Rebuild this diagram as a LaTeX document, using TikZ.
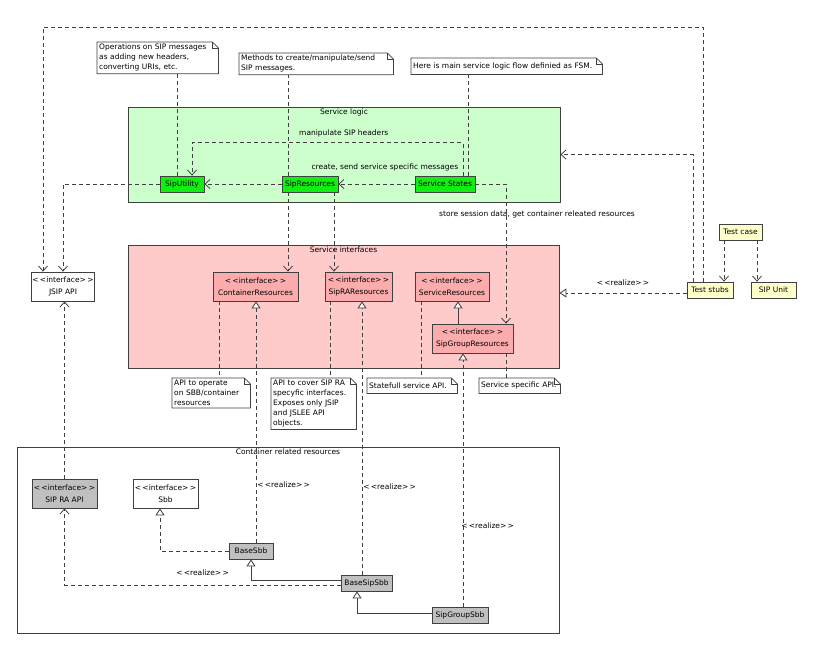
\documentclass[tikz,border=0pt]{standalone}
\usepackage{fontspec}
\setmainfont{DejaVu Sans}
\usetikzlibrary{positioning}
\usetikzlibrary{calc}
\usetikzlibrary{arrows.meta}
\definecolor{pkggreen}{RGB}{204,255,204}
\definecolor{clsgreen}{RGB}{17,238,17}
\definecolor{pkgpink}{RGB}{255,202,202}
\definecolor{clspink}{RGB}{252,172,172}
\definecolor{clsgray}{RGB}{192,192,192}
\definecolor{noteyellow}{RGB}{255,255,204}
\definecolor{linegray}{RGB}{64,64,64}
\newcommand{\dogear}[1]{%
    \draw[notebox] (#1.south west) -- (#1.north west) -- ([xshift=-6pt]#1.north east)
        -- ([yshift=-6pt]#1.north east) -- (#1.south east) -- cycle;
    \draw[notebox] ([xshift=-6pt]#1.north east) |- ([yshift=-6pt]#1.north east);
}

\begin{document}
\begin{tikzpicture}[x=1pt, y=-1pt,
    every node/.style={font=\fontsize{7.5}{10}\selectfont},
    pkg/.style={draw=linegray, line width=0.8pt, inner sep=0pt},
    pkgtitle/.style={anchor=north, inner sep=1.5pt},
    cls/.style={draw=linegray, line width=0.8pt, minimum height=16pt, inner sep=1pt},
    iface/.style={cls, fill=clspink, minimum height=29pt, align=center},
    note/.style={fill=white, inner sep=2pt, align=left, anchor=north west},
    notebox/.style={draw=linegray, line width=0.7pt},
    noteline/.style={draw=linegray, line width=0.8pt, dash pattern=on 4pt off 3pt},
    dep/.style={noteline, -{Straight Barb[length=5pt,width=9pt]}},
    real/.style={noteline, -{Triangle[length=7pt,width=9pt,fill=white]}},
    gen/.style={draw=linegray, line width=0.8pt, -{Triangle[length=7pt,width=9pt,fill=white]}},
    lbl/.style={inner sep=1pt}]

    \fill[white] (0,0) rectangle (840,654);
    \useasboundingbox (0,0) rectangle (840,654);

    % packages
    \node[pkg, fill=pkggreen, minimum width=432pt, minimum height=95pt] (logic) at (344,154.5) {};
    \node[pkgtitle] at (logic.north) {Service logic};
    \node[pkg, fill=pkgpink, minimum width=431pt, minimum height=123pt] (ifaces) at (343.5,306.5) {};
    \node[pkgtitle] at (ifaces.north) {Service interfaces};
    \node[pkg, fill=white, minimum width=542pt, minimum height=186pt] (contain) at (288,540) {};
    \node[pkgtitle] at (contain.north) {Container related resources};

    % service logic
    \node[cls, fill=clsgreen, minimum width=44pt] (util) at (182,184) {SipUtility};
    \node[cls, fill=clsgreen, minimum width=56pt] (sipres) at (310,184) {SipResources};
    \node[cls, fill=clsgreen, minimum width=60pt] (states) at (445,184) {Service States};

    % service interfaces
    \node[iface, minimum width=85pt] (contres) at (255.5,286.5) {<\,<interface>\,>\\[2pt]ContainerResources};
    \node[iface, minimum width=67pt] (raires) at (358.5,286.5) {<\,<interface>\,>\\[2pt]SipRAResources};
    \node[iface, minimum width=74pt] (svcres) at (452,286.5) {<\,<interface>\,>\\[2pt]ServiceResources};
    \node[iface, minimum width=81pt] (grpres) at (472.5,338.5) {<\,<interface>\,>\\[2pt]SipGroupResources};

    % outside
    \node[cls, fill=white, minimum width=62pt, minimum height=29pt, align=center] (jsip) at (63,286.5) {<\,<interface>\,>\\[2pt]JSIP API};
    \node[cls, fill=noteyellow, minimum width=46pt] (stubs) at (710,290) {Test stubs};
    \node[cls, fill=noteyellow, minimum width=43pt] (tcase) at (740.5,232) {Test case};
    \node[cls, fill=noteyellow, minimum width=45pt] (sipunit) at (773.5,290) {SIP Unit};

    % container
    \node[cls, fill=clsgray, minimum width=65pt, minimum height=29pt, align=center] (raapi) at (64.5,493.5) {<\,<interface>\,>\\[2pt]SIP RA API};
    \node[cls, fill=white, minimum width=65pt, minimum height=29pt, align=center] (sbb) at (165.5,493.5) {<\,<interface>\,>\\[2pt]Sbb};
    \node[cls, fill=clsgray, minimum width=44pt] (basesbb) at (251,551) {BaseSbb};
    \node[cls, fill=clsgray, minimum width=51pt] (basesip) at (366.5,583) {BaseSipSbb};
    \node[cls, fill=clsgray, minimum width=56pt] (grpsbb) at (460,615) {SipGroupSbb};

    % notes
    \node[note, text width=117pt] (noteops) at (97,42) {Operations on SIP messages\\as adding new headers,\\converting URIs, etc.};
    \node[note, text width=150pt] (notemeth) at (239,53) {Methods to create/manipulate/send\\SIP messages.};
    \node[note, text width=187pt, minimum height=16pt] (notefsm) at (411,58) {Here is main service logic flow definied as FSM.};
    \node[note, text width=74pt] (notecont) at (172,378) {API to operate\\on SBB/container\\resources};
    \node[note, text width=81pt] (notera) at (271,378) {API to cover SIP RA\\specyfic interfaces.\\Exposes only JSIP\\and JSLEE API\\objects.};
    \node[note, text width=86pt, minimum height=15pt] (notestate) at (367,378) {Statefull service API.};
    \node[note, text width=77pt, minimum height=15pt] (notespec) at (479,378) {Service specific API.};
    \foreach \n in {noteops,notemeth,notefsm,notecont,notera,notestate,notespec} {
        \dogear{\n}
    }

    % note links
    \draw[noteline] ([xshift=-5pt]util.north) -- ([xshift=-5pt]util.north |- noteops.south);
    \draw[noteline] ([xshift=-22pt]sipres.north) -- ([xshift=-22pt]sipres.north |- notemeth.south);
    \draw[noteline] ([xshift=23.5pt]states.north) -- ([xshift=23.5pt]states.north |- notefsm.south);
    \draw[noteline] ([xshift=-36.5pt]contres.south) -- ([xshift=-36.5pt]contres.south |- notecont.north);
    \draw[noteline] ([xshift=-28.5pt]raires.south) -- ([xshift=-28.5pt]raires.south |- notera.north);
    \draw[noteline] ([xshift=-31pt]svcres.south) -- ([xshift=-31pt]svcres.south |- notestate.north);
    \draw[noteline] ([xshift=33.5pt]grpres.south) -- ([xshift=33.5pt]grpres.south |- notespec.north);

    % service logic flow
    \draw[dep] (states.west) -- (sipres.east)
        node[lbl, pos=0.39, above=12pt] {create, send service specific messages};
    \draw[dep] (sipres.west) -- (util.east);
    \draw[dep] ([xshift=18pt]states.north) -- ++(0,-33) -| ([xshift=10pt]util.north)
        node[lbl, pos=0.22, above=4pt] {manipulate SIP headers};
    \draw[dep] (states.east) -| ([xshift=33.5pt]grpres.north)
        node[lbl, pos=0.61, xshift=31pt] {store session data, get container releated resources};
    \draw[dep] (util.west) -| (jsip.north);
    \draw[dep] ([xshift=-22pt]sipres.south) -- ([xshift=-22pt]sipres.south |- contres.north);
    \draw[dep] ([xshift=24pt]sipres.south) -- ([xshift=24pt]sipres.south |- raires.north);

    % interfaces
    \draw[gen] ([xshift=6pt]svcres.south |- grpres.north) -- ([xshift=6pt]svcres.south);

    % tests
    \coordinate (topbend) at (43,27);
    \draw[dep] ([xshift=-7pt]stubs.north) |- (topbend) -- ([xshift=-20pt]jsip.north);
    \draw[dep] ([xshift=-17pt]stubs.north) |- (logic.east);
    \draw[real] ([yshift=-3pt]stubs.west) -- ([yshift=-3pt]stubs.west -| ifaces.east)
        node[lbl, pos=0.5, above=6pt] {<\,<realize>\,>};
    \draw[dep] ([xshift=-16.5pt]tcase.south) -- ([xshift=-16.5pt]tcase.south |- stubs.north);
    \draw[dep] ([xshift=16.5pt]tcase.south) -- ([xshift=16.5pt]tcase.south |- sipunit.north);

    % container
    \draw[dep] (raapi.north) -- (raapi.north |- jsip.south);
    \draw[real] (basesbb.west) -| ([xshift=-5.5pt]sbb.south);
    \draw[real] ([xshift=5pt]basesbb.north) -- ([xshift=5pt]basesbb.north |- contres.south)
        node[lbl, pos=0.24, anchor=west] {<\,<realize>\,>};
    \draw[gen] ([yshift=3pt]basesip.west) -| (basesbb.south);
    \draw[dep] ([yshift=-2pt]basesip.west) -| (raapi.south)
        node[lbl, pos=0.25, above=8pt] {<\,<realize>\,>};
    \draw[real] ([xshift=-4.5pt]basesip.north) -- ([xshift=-4.5pt]basesip.north |- raires.south)
        node[lbl, pos=0.32, anchor=west] {<\,<realize>\,>};
    \draw[gen] ([yshift=2pt]grpsbb.west) -| ([xshift=-9.5pt]basesip.south);
    \draw[real] ([xshift=3pt]grpsbb.north) -- ([xshift=3pt]grpsbb.north |- grpres.south)
        node[lbl, pos=0.32, anchor=west, xshift=-3pt] {<\,<realize>\,>};
\end{tikzpicture}
\end{document}
